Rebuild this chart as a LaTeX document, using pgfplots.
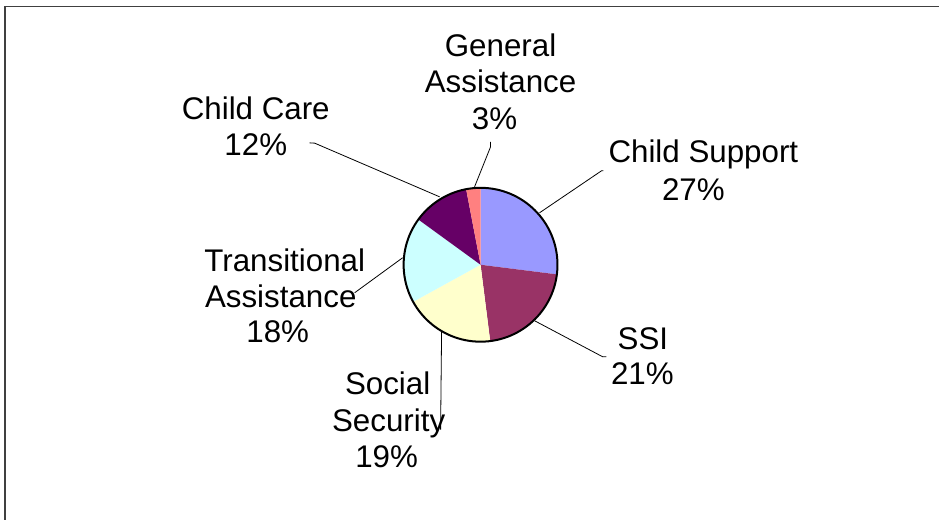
\documentclass[border=0pt]{standalone}
\usepackage{pgfplots}
\pgfplotsset{compat=1.18}
\usepackage{pgfplotstable}
\usepackage{fontspec}
\setmainfont{Liberation Sans}
\definecolor{cs}{HTML}{9999FF}
\definecolor{ssi}{HTML}{993366}
\definecolor{soc}{HTML}{FFFFCC}
\definecolor{tra}{HTML}{CCFFFF}
\definecolor{cc}{HTML}{660066}
\definecolor{ga}{HTML}{FF8080}

\pgfplotstableread{
value col
27 cs
21 ssi
19 soc
18 tra
12 cc
3 ga
}\piedata

\begin{document}
\begin{tikzpicture}
\begin{axis}[
  width=705pt, height=390pt, scale only axis,
  xmin=0, xmax=940, ymin=0, ymax=520,
  hide axis, clip=false,
]
\path (rel axis cs:0,0) rectangle (rel axis cs:1,1);
% frame (top and left edges visible)
\addplot[draw=black!75, line width=1.3pt] coordinates {(5,0) (5,513.5) (940,513.5)};
\pgfplotsextra{
  \pgfplotstablegetrowsof{\piedata}
  \pgfmathtruncatemacro{\N}{\pgfplotsretval-1}
  \gdef\angA{90}
  \foreach \i in {0,...,\N}{
    \pgfplotstablegetelem{\i}{value}\of\piedata \let\v\pgfplotsretval
    \pgfplotstablegetelem{\i}{col}\of\piedata \let\c\pgfplotsretval
    \pgfmathsetmacro{\angB}{\angA-3.6*\v}
    \fill[fill=\c] (axis cs:481,255) -- ++(\angA:57.75pt) arc[start angle=\angA, end angle=\angB, radius=57.75pt] -- cycle;
    \xdef\angA{\angB}
  }
  \draw[black, line width=1.5pt] (axis cs:481,255) circle[radius=57.75pt];
}
% leader lines
\addplot[black, line width=0.6pt] coordinates {(475,333) (491,373) (491,378)};
\addplot[black, line width=0.6pt] coordinates {(440,323) (315,376.7) (310,377)};
\addplot[black, line width=0.6pt] coordinates {(540,307) (602,349) (604,349)};
\addplot[black, line width=0.6pt] coordinates {(535,199) (603,163) (607,163)};
\addplot[black, line width=0.6pt] coordinates {(442,189) (441,90)};
\addplot[black, line width=0.6pt] coordinates {(403,262) (355,227)};
% labels
\begin{scope}[every node/.style={anchor=base, inner sep=0pt, font=\fontsize{23.5pt}{28pt}\selectfont}]
\node at (axis cs:501,463.3) {General};
\node at (axis cs:501,427) {Assistance};
\node at (axis cs:495,390) {3\%};
\node at (axis cs:256,400) {Child Care};
\node at (axis cs:256,364) {12\%};
\node at (axis cs:704,357) {Child Support};
\node at (axis cs:694,319) {27\%};
\node at (axis cs:285,248.3) {Transitional};
\node at (axis cs:281,212) {Assistance};
\node at (axis cs:278,177) {18\%};
\node at (axis cs:388,125) {Social};
\node at (axis cs:389,88.3) {Security};
\node at (axis cs:387,52) {19\%};
\node at (axis cs:643.5,170) {SSI};
\node at (axis cs:643,135) {21\%};
\end{scope}
\end{axis}
\end{tikzpicture}
\end{document}
